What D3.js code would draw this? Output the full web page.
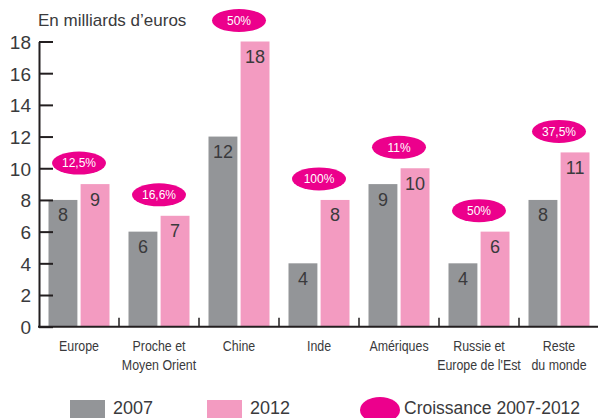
<!DOCTYPE html>
<html>
<head>
<meta charset="utf-8">
<script src="https://cdn.jsdelivr.net/npm/d3@7"></script>
<style>
    body { margin: 0; background: #fff; }
    svg { display: block; }
</style>
</head>
<body>
<div id="chart"></div>
<script>
const categories = ["Europe", "Proche et\nMoyen Orient", "Chine", "Inde", "Amériques", "Russie et\nEurope de l'Est", "Reste\ndu monde"];
const series = ["2007", "2012"];
const values2007 = [8, 6, 12, 4, 9, 4, 8];
const values2012 = [9, 7, 18, 8, 10, 6, 11];
const growth = ["12,5%", "16,6%", "50%", "100%", "11%", "50%", "37,5%"];
const yTicks = [0, 2, 4, 6, 8, 10, 12, 14, 16, 18];
const unitLabel = "En milliards d\u2019euros";
const growthLabel = "Croissance 2007-2012";

const W = 598, H = 418;
const margin = { top: 41.5, right: -1, bottom: 91.3, left: 39 };
const colors = { "2007": "#939598", "2012": "#f39bc1" };
const magenta = "#ec008c";
const textColor = "#3a3a3c";
const font = "'Liberation Sans', Arial, sans-serif";

const svg = d3.select("#chart")
    .append("svg")
    .attr("width", W)
    .attr("height", H);

const x0 = d3.scaleBand()
    .domain(categories)
    .range([margin.left, W - margin.right]);

const x1 = d3.scaleBand()
    .domain(series)
    .range([9.5, 70.5])
    .paddingInner(0.1);

const y = d3.scaleLinear()
    .domain([0, 18])
    .range([H - margin.bottom, margin.top]);

const rows = categories.map((c, i) => ({
    cat: c,
    growth: growth[i],
    bars: [
        { key: "2007", value: values2007[i] },
        { key: "2012", value: values2012[i] }
    ]
}));

// unit title
svg.append("text")
    .attr("x", 38)
    .attr("y", 26)
    .attr("font-family", font)
    .attr("font-size", 17)
    .attr("fill", textColor)
    .text(unitLabel);

// bars
const groups = svg.append("g")
    .selectAll("g")
    .data(rows)
    .join("g")
    .attr("transform", d => "translate(" + x0(d.cat) + ",0)");

groups.selectAll("rect")
    .data(d => d.bars)
    .join("rect")
    .attr("x", d => x1(d.key))
    .attr("y", d => y(d.value))
    .attr("width", x1.bandwidth())
    .attr("height", d => y(0) - y(d.value))
    .attr("fill", d => colors[d.key]);

groups.selectAll("text.val")
    .data(d => d.bars)
    .join("text")
    .attr("class", "val")
    .attr("x", d => x1(d.key) + x1.bandwidth() / 2)
    .attr("y", d => y(d.value) + 21.5)
    .attr("text-anchor", "middle")
    .attr("font-family", font)
    .attr("font-size", 18)
    .attr("fill", textColor)
    .text(d => d.value);

// growth bubbles
groups.append("ellipse")
    .attr("cx", x0.bandwidth() / 2)
    .attr("cy", d => y(d3.max(d.bars, b => b.value)) - 21)
    .attr("rx", 27)
    .attr("ry", 11.5)
    .attr("fill", magenta);

groups.append("text")
    .attr("x", x0.bandwidth() / 2)
    .attr("y", d => y(d3.max(d.bars, b => b.value)) - 21 + 4.3)
    .attr("text-anchor", "middle")
    .attr("font-family", font)
    .attr("font-size", 12)
    .attr("fill", "#fff")
    .text(d => d.growth);

// y axis, ticks pointing inward
const yAxis = d3.axisLeft(y)
    .tickValues(yTicks)
    .tickSizeInner(-14)
    .tickSizeOuter(0)
    .tickPadding(8);

const gy = svg.append("g")
    .attr("transform", "translate(" + margin.left + ",0)")
    .call(yAxis);

gy.select(".domain")
    .attr("stroke", "#231f20")
    .attr("stroke-width", 2);
gy.selectAll(".tick line")
    .attr("stroke", "#231f20")
    .attr("stroke-width", 2);
gy.selectAll(".tick text")
    .attr("font-family", font)
    .attr("font-size", 19)
    .attr("fill", textColor)
    .attr("dy", "0.36em");

// x axis line with separators between categories
svg.append("line")
    .attr("x1", margin.left - 1)
    .attr("x2", W)
    .attr("y1", y(0))
    .attr("y2", y(0))
    .attr("stroke", "#231f20")
    .attr("stroke-width", 2);

svg.append("g")
    .selectAll("line")
    .data(categories.slice(1))
    .join("line")
    .attr("x1", d => x0(d))
    .attr("x2", d => x0(d))
    .attr("y1", y(0))
    .attr("y2", y(0) - 9)
    .attr("stroke", "#231f20")
    .attr("stroke-width", 1.5);

// category labels, squeezed horizontally like the condensed original
svg.append("g")
    .selectAll("text")
    .data(categories)
    .join("text")
    .attr("transform", d => "translate(" + (x0(d) + x0.bandwidth() / 2) + ",351) scale(0.8,1)")
    .attr("text-anchor", "middle")
    .attr("font-family", font)
    .attr("font-size", 15.5)
    .attr("fill", textColor)
    .selectAll("tspan")
    .data(d => d.split("\n"))
    .join("tspan")
    .attr("x", 0)
    .attr("dy", (d, i) => i ? 19.5 : 0)
    .text(d => d);

// legend
const legend = svg.append("g");

legend.selectAll("rect")
    .data(series)
    .join("rect")
    .attr("x", (d, i) => 70 + i * 137)
    .attr("y", 400)
    .attr("width", 35)
    .attr("height", 20)
    .attr("fill", d => colors[d]);

legend.selectAll("text.s")
    .data(series)
    .join("text")
    .attr("class", "s")
    .attr("x", (d, i) => 113 + i * 137)
    .attr("y", 414)
    .attr("font-family", font)
    .attr("font-size", 18)
    .attr("fill", textColor)
    .text(d => d);

legend.append("ellipse")
    .attr("cx", 380)
    .attr("cy", 410)
    .attr("rx", 20)
    .attr("ry", 13)
    .attr("fill", magenta);

legend.append("text")
    .attr("x", 404)
    .attr("y", 414)
    .attr("font-family", font)
    .attr("font-size", 17.5)
    .attr("fill", textColor)
    .text(growthLabel);
</script>
</body>
</html>
